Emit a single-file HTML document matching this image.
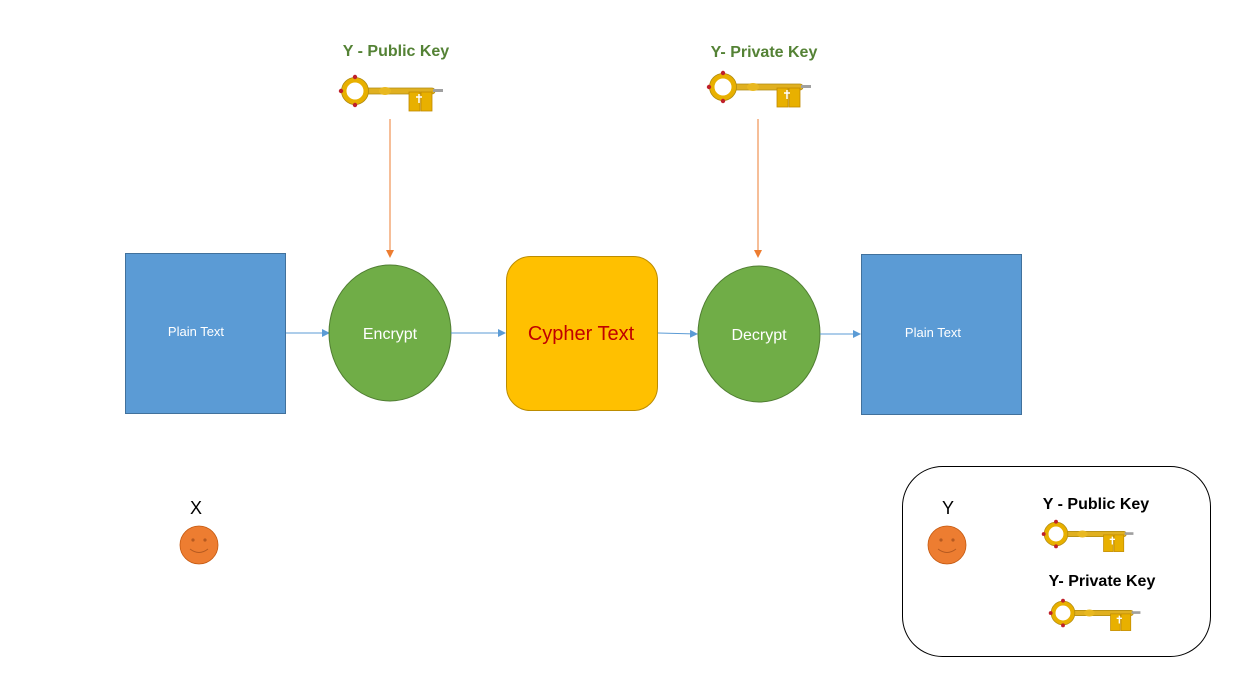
<!DOCTYPE html>
<html><head><meta charset="utf-8"><style>
html,body{margin:0;padding:0;background:#fff;}
svg{display:block;font-family:"Liberation Sans",sans-serif;}
</style></head><body>
<svg width="1239" height="675" viewBox="0 0 1239 675" xmlns="http://www.w3.org/2000/svg">
<defs>
<marker id="ab" markerWidth="8" markerHeight="8" refX="7" refY="4" orient="auto" markerUnits="userSpaceOnUse"><path d="M0,0 L8,4 L0,8 z" fill="#5b9bd5"/></marker>
<marker id="ao" markerWidth="8" markerHeight="8" refX="7" refY="4" orient="auto" markerUnits="userSpaceOnUse"><path d="M0,0 L8,4 L0,8 z" fill="#ed7d31"/></marker>
<g id="key">
<rect x="10" y="-3" width="70" height="6" rx="3" fill="#e0b020" stroke="#b08a10" stroke-width="0.8"/>
<ellipse cx="30" cy="0" rx="6" ry="4" fill="#e8b820"/>
<rect x="78" y="-2" width="10" height="3" fill="#a0a0a0"/>
<rect x="54" y="1" width="11" height="19" fill="#e8b000" stroke="#c08a00" stroke-width="0.8"/>
<rect x="66" y="1" width="11" height="19" fill="#e8b000" stroke="#c08a00" stroke-width="0.8"/>
<path d="M61,6 h6 M64,3 v9" stroke="#fff" stroke-width="1.5"/>
<circle cx="0" cy="0" r="11" fill="none" stroke="#e8b000" stroke-width="5"/>
<circle cx="0" cy="0" r="13.5" fill="none" stroke="#b08a10" stroke-width="0.8"/>
<circle cx="0" cy="-14" r="2.2" fill="#c0202a"/>
<circle cx="-14" cy="0" r="2.2" fill="#c0202a"/>
<circle cx="0" cy="14" r="2.2" fill="#c0202a"/>
</g>
</defs>

<text x="396" y="56" font-size="16" font-weight="bold" fill="#548235" text-anchor="middle">Y - Public Key</text>
<use href="#key" transform="translate(355,91)"/>
<text x="764" y="57" font-size="16" font-weight="bold" fill="#548235" text-anchor="middle">Y- Private Key</text>
<use href="#key" transform="translate(723,87)"/>

<line x1="390" y1="119" x2="390" y2="257" stroke="#ed7d31" stroke-width="1" marker-end="url(#ao)"/>
<line x1="758" y1="119" x2="758" y2="257" stroke="#ed7d31" stroke-width="1" marker-end="url(#ao)"/>

<rect x="125.5" y="253.5" width="160" height="160" fill="#5b9bd5" stroke="#41719c"/>
<text x="196" y="336" font-size="13" fill="#fff" text-anchor="middle">Plain Text</text>
<line x1="286" y1="333" x2="329" y2="333" stroke="#5b9bd5" marker-end="url(#ab)"/>
<ellipse cx="390" cy="333" rx="61" ry="68" fill="#70ad47" stroke="#507e32"/>
<text x="390" y="339" font-size="16" fill="#fff" text-anchor="middle">Encrypt</text>
<line x1="451" y1="333" x2="505" y2="333" stroke="#5b9bd5" marker-end="url(#ab)"/>
<rect x="506.5" y="256.5" width="151" height="154" rx="24" fill="#ffc000" stroke="#bc8c00"/>
<text x="581" y="340" font-size="20" fill="#c00000" text-anchor="middle">Cypher Text</text>
<line x1="658" y1="333" x2="697" y2="334" stroke="#5b9bd5" marker-end="url(#ab)"/>
<ellipse cx="759" cy="334" rx="61" ry="68" fill="#70ad47" stroke="#507e32"/>
<text x="759" y="340" font-size="16" fill="#fff" text-anchor="middle">Decrypt</text>
<line x1="820" y1="334" x2="860" y2="334" stroke="#5b9bd5" marker-end="url(#ab)"/>
<rect x="861.5" y="254.5" width="160" height="160" fill="#5b9bd5" stroke="#41719c"/>
<text x="933" y="337" font-size="13" fill="#fff" text-anchor="middle">Plain Text</text>

<text x="196" y="514" font-size="18" fill="#000" text-anchor="middle">X</text>
<circle cx="199" cy="545" r="19" fill="#ed7d31" stroke="#c55a11" stroke-width="0.8"/>
<circle cx="193" cy="540" r="1.6" fill="#b55a20"/><circle cx="205" cy="540" r="1.6" fill="#b55a20"/>
<path d="M190,549 Q199,556 208,549" fill="none" stroke="#b55a20" stroke-width="1"/>

<rect x="902.5" y="466.5" width="308" height="190" rx="40" fill="#fff" stroke="#000"/>
<text x="948" y="514" font-size="18" fill="#000" text-anchor="middle">Y</text>
<circle cx="947" cy="545" r="19" fill="#ed7d31" stroke="#c55a11" stroke-width="0.8"/>
<circle cx="941" cy="540" r="1.6" fill="#b55a20"/><circle cx="953" cy="540" r="1.6" fill="#b55a20"/>
<path d="M938,549 Q947,556 956,549" fill="none" stroke="#b55a20" stroke-width="1"/>
<text x="1096" y="509" font-size="16" font-weight="bold" fill="#000" text-anchor="middle">Y - Public Key</text>
<use href="#key" transform="translate(1056,534) scale(0.88)"/>
<text x="1102" y="586" font-size="16" font-weight="bold" fill="#000" text-anchor="middle">Y- Private Key</text>
<use href="#key" transform="translate(1063,613) scale(0.88)"/>
</svg>
</body></html>
